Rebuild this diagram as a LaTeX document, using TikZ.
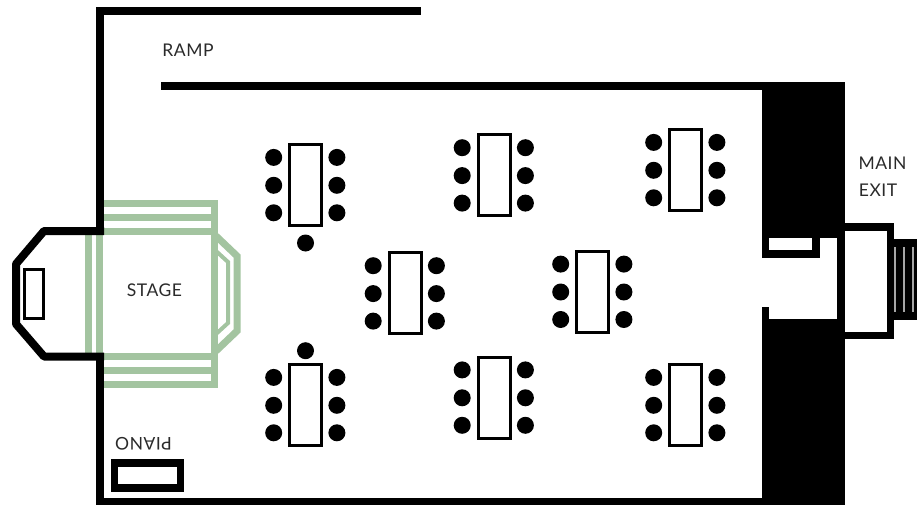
\documentclass[tikz,border=0pt]{standalone}
\usepackage{fontspec}
\setmainfont{Lato}[LetterSpace=3]
\definecolor{stagegreen}{HTML}{A3C4A0}
\definecolor{labelgrey}{HTML}{2A2A2A}
\tikzset{
  wall/.style={fill=black},
  greenbar/.style={draw=stagegreen,line width=7pt},
  greenthin/.style={draw=stagegreen,line width=4pt},
  seat/.style={circle,fill=black,inner sep=0pt,minimum size=17pt},
  tablebox/.style={rectangle,draw=black,fill=white,line width=3pt,inner sep=0pt,minimum width=32pt,minimum height=81pt},
  lbl/.style={text=labelgrey,font=\fontsize{17.5}{20}\selectfont,inner sep=0pt,anchor=center}
}
\newcommand{\tablegroup}[3]{%
  \node[tablebox] (t#1) at (#2,#3) {};
  \node[seat] (t#1a) at (#2-31.8,#3-27.6) {};
  \node[seat] (t#1b) at (#2-31.8,#3+0.3) {};
  \node[seat] (t#1c) at (#2-31.8,#3+27.8) {};
  \node[seat] (t#1d) at (#2+31.4,#3-27.6) {};
  \node[seat] (t#1e) at (#2+31.4,#3+0.3) {};
  \node[seat] (t#1f) at (#2+31.4,#3+27.8) {};
}
\begin{document}
\begin{tikzpicture}[x=1pt,y=-1pt]
\useasboundingbox (0,0) rectangle (917,505);
% green stage
\draw[greenbar] (103,203.5) -- (218,203.5);
\draw[greenbar] (103,217.5) -- (214,217.5);
\draw[greenbar] (103,231.5) -- (214,231.5);
\draw[greenbar] (103,356) -- (214,356);
\draw[greenbar] (103,370) -- (214,370);
\draw[greenbar] (103,384) -- (218,384);
\draw[greenbar] (214.5,200) -- (214.5,387.5);
\draw[greenbar] (88.5,233) -- (88.5,354);
\draw[greenbar] (99.5,233) -- (99.5,354);
\draw[greenbar,line join=miter] (216,236) -- (237,256) -- (237,331) -- (216,351);
\draw[greenthin,line join=miter] (216,251) -- (228,262) -- (228,323) -- (216,334);
% walls
\fill[wall] (96,7) rectangle (421,15);
\fill[wall] (96,7) rectangle (104,235);
\fill[wall] (96,353) rectangle (104,505);
\fill[wall] (96,498) rectangle (845,505);
\fill[wall] (161,82) rectangle (845,90);
% black end blocks
\fill[wall] (762,82) rectangle (845,238);
\fill[wall] (762,319) rectangle (844.5,505);
\fill[wall] (762,307) rectangle (769,320);
\fill[wall] (762,238) rectangle (769,258);
\fill[wall] (762,250) rectangle (820,258);
\fill[wall] (812,238) rectangle (820,258);
% exit
\fill[wall] (837,223) rectangle (894,339);
\fill[white] (845,231) rectangle (887,332);
\fill[wall] (894,239) rectangle (917,320);
\foreach \x in {895,904,913} \fill[gray!70] (\x-0.7,247) rectangle (\x+0.7,312);
% apse behind stage
\draw[line width=8pt,line join=round] (104,231) -- (44,231) -- (16,264) -- (16,324) -- (44,356.5) -- (104,356.5);
\draw[line width=3pt] (24.5,269.5) rectangle (43.5,318);
% piano
\draw[line width=7.5pt] (114.5,463) rectangle (180.5,488);
% tables
\tablegroup{1}{305.5}{185}
\tablegroup{2}{494}{175.3}
\tablegroup{3}{685.5}{170}
\tablegroup{4}{405}{293.3}
\tablegroup{5}{592.5}{291.7}
\tablegroup{6}{305.5}{405}
\tablegroup{7}{494}{397.5}
\tablegroup{8}{685.5}{405}
\node[seat] (s1) at (305.5,243) {};
\node[seat] (s2) at (305.5,350.7) {};
% labels
\node[lbl] (ramp) at (188,50) {RAMP};
\node[lbl] (stage) at (154.5,290.5) {STAGE};
\node[lbl] (main) at (882.5,163) {MAIN};
\node[lbl] (exit) at (878,190) {EXIT};
\node[lbl,rotate=180] (piano) at (143.5,443.5) {PIANO};
\end{tikzpicture}
\end{document}
